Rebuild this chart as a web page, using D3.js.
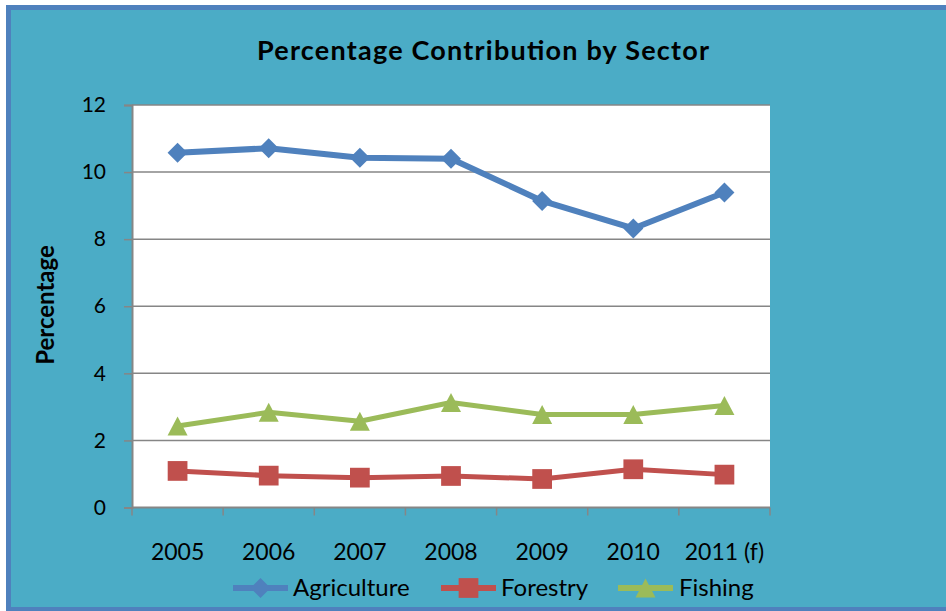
<!DOCTYPE html>
<html>
<head>
<meta charset="utf-8">
<script src="https://cdn.jsdelivr.net/npm/d3@7"></script>
<style>
  html, body { margin: 0; padding: 0; background: #ffffff; }
  svg { display: block; }
  text { font-family: Lato, "Open Sans", sans-serif; fill: #000; }
</style>
</head>
<body>
<svg id="chart" width="946" height="611"></svg>
<script>
// Sector share data (percent), 2011 is a forecast
const years = ["2005", "2006", "2007", "2008", "2009", "2010", "2011 (f)"];
const agriculture = [10.58, 10.71, 10.43, 10.40, 9.14, 8.32, 9.39];
const forestry    = [1.09, 0.95, 0.89, 0.94, 0.85, 1.14, 0.98];
const fishing     = [2.43, 2.84, 2.57, 3.13, 2.77, 2.77, 3.04];
const yTicks = [0, 2, 4, 6, 8, 10, 12];

// marker shapes: a square turned 45°, a plain square and a box-centred triangle
const diamond = {
  draw(ctx, size) {
    const r = Math.sqrt(size) / 2;
    ctx.moveTo(0, -r); ctx.lineTo(r, 0); ctx.lineTo(0, r); ctx.lineTo(-r, 0); ctx.closePath();
  }
};
const square = {
  draw(ctx, size) {
    const r = Math.sqrt(size) / 2;
    ctx.rect(-r, -r, 2 * r, 2 * r);
  }
};
const triangle = {
  draw(ctx, size) {
    const r = Math.sqrt(size) / 2;
    ctx.moveTo(0, -r * 0.95); ctx.lineTo(r, r * 0.95); ctx.lineTo(-r, r * 0.95); ctx.closePath();
  }
};

const seriesList = [
  { name: "Agriculture", values: agriculture, color: "#4F81BD", symbol: diamond,  size: 400, lw: 6 },
  { name: "Forestry",    values: forestry,    color: "#C0504D", symbol: square,   size: 390, lw: 5 },
  { name: "Fishing",     values: fishing,     color: "#9BBB59", symbol: triangle, size: 400, lw: 5 }
];

const svg = d3.select("#chart");
const plot = { left: 132, right: 770, top: 105, bottom: 507.5 };

// chart frame
svg.append("rect")
  .attr("x", 8.5).attr("y", 7.5)
  .attr("width", 980).attr("height", 602)
  .attr("fill", "#4BACC6")
  .attr("stroke", "#4F81BD").attr("stroke-width", 5);

// plot background
svg.append("rect")
  .attr("x", plot.left).attr("y", plot.top)
  .attr("width", plot.right - plot.left).attr("height", plot.bottom - plot.top)
  .attr("fill", "#ffffff");

const x = d3.scaleBand().domain(years).range([plot.left, plot.right]);
const y = d3.scaleLinear().domain([0, 12]).range([plot.bottom, plot.top]);
const cx = d => x(d) + x.bandwidth() / 2;

// horizontal gridlines
svg.append("g").selectAll("line")
  .data(yTicks.filter(t => t > 0))
  .join("line")
  .attr("x1", plot.left).attr("x2", plot.right)
  .attr("y1", d => y(d)).attr("y2", d => y(d))
  .attr("stroke", "#868686").attr("stroke-width", 1.5);

// y axis
const yAxis = svg.append("g")
  .attr("transform", `translate(${plot.left},0)`)
  .call(d3.axisLeft(y).tickValues(yTicks).tickSize(8).tickPadding(18).tickFormat(d3.format("d")));
yAxis.select(".domain").attr("stroke", "#868686").attr("stroke-width", 2);
yAxis.selectAll(".tick line").attr("stroke", "#868686").attr("stroke-width", 1.5);
yAxis.selectAll(".tick text")
  .attr("font-family", "Lato, sans-serif").attr("font-size", 21).attr("fill", "#000");

// x axis: ticks between categories
const xAxisG = svg.append("g");
xAxisG.append("line")
  .attr("x1", plot.left).attr("x2", plot.right)
  .attr("y1", plot.bottom).attr("y2", plot.bottom)
  .attr("stroke", "#868686").attr("stroke-width", 2);
const boundaries = years.map(d => x(d)).concat([x(years[years.length - 1]) + x.bandwidth()]);
xAxisG.selectAll("line.tk")
  .data(boundaries)
  .join("line").attr("class", "tk")
  .attr("x1", d => d).attr("x2", d => d)
  .attr("y1", plot.bottom).attr("y2", plot.bottom + 8)
  .attr("stroke", "#868686").attr("stroke-width", 1.5);
xAxisG.selectAll("text")
  .data(years)
  .join("text")
  .attr("x", d => cx(d)).attr("y", 560)
  .attr("text-anchor", "middle")
  .attr("font-size", 23)
  .text(d => d);

// title
svg.append("text")
  .attr("x", 483).attr("y", 60)
  .attr("text-anchor", "middle")
  .attr("font-size", 27).attr("font-weight", "bold")
  .attr("textLength", 452).attr("lengthAdjust", "spacing")
  .text("Percentage Contribution by Sector");

// y axis title
svg.append("text")
  .attr("transform", "translate(54,305) rotate(-90)")
  .attr("text-anchor", "middle")
  .attr("font-size", 24).attr("font-weight", "bold")
  .text("Percentage");

// series lines and markers
const line = d3.line().x((v, i) => cx(years[i])).y(v => y(v));

seriesList.forEach(s => {
  svg.append("path")
    .attr("d", line(s.values))
    .attr("fill", "none")
    .attr("stroke", s.color)
    .attr("stroke-width", s.lw)
    .attr("stroke-linejoin", "round");
  svg.append("g").selectAll("path")
    .data(s.values)
    .join("path")
    .attr("transform", (v, i) => `translate(${cx(years[i])},${y(v)})`)
    .attr("d", d3.symbol().type(s.symbol).size(s.size))
    .attr("fill", s.color);
});

// legend
const legend = [
  { s: seriesList[0], x0: 233, tx: 293 },
  { s: seriesList[1], x0: 441, tx: 501 },
  { s: seriesList[2], x0: 618, tx: 679 }
];
const ly = 588;
legend.forEach(l => {
  const g = svg.append("g");
  g.append("line")
    .attr("x1", l.x0).attr("x2", l.x0 + 55)
    .attr("y1", ly).attr("y2", ly)
    .attr("stroke", l.s.color).attr("stroke-width", 6);
  g.append("path")
    .attr("transform", `translate(${l.x0 + 27.5},${ly})`)
    .attr("d", d3.symbol().type(l.s.symbol).size(l.s.size))
    .attr("fill", l.s.color);
  g.append("text")
    .attr("x", l.tx).attr("y", ly + 8)
    .attr("font-size", 24)
    .text(l.s.name);
});
</script>
</body>
</html>
